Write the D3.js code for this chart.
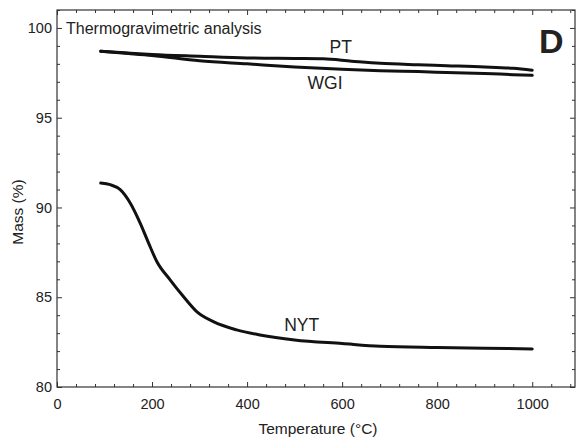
<!DOCTYPE html>
<html>
<head>
<meta charset="utf-8">
<script src="https://cdn.jsdelivr.net/npm/d3@7"></script>
<style>
  body { margin: 0; background: #fff; }
  svg text { font-family: "Liberation Sans", Arial, sans-serif; fill: #222; }
  .axis path { display: none; }
  .axis line { stroke: #333; }
</style>
</head>
<body>
<div id="chart"></div>
<script>
const width = 580;
const height = 440;
const margin = { top: 10, right: 5, bottom: 53, left: 57 };

// temperatures (°C) and mass (%)
const nytTemp = [92, 112, 133, 154, 175, 193, 210, 238, 266, 294, 329, 378, 427, 500, 600, 680, 800, 900, 1000];
const nytMass = [91.36, 91.27, 90.99, 90.25, 89.13, 88.0, 86.99, 85.97, 85.04, 84.2, 83.64, 83.18, 82.9, 82.62, 82.42, 82.27, 82.2, 82.16, 82.12];

const ptTemp = [92, 150, 200, 300, 400, 500, 560, 620, 680, 760, 820, 900, 960, 1000];
const ptMass = [98.7, 98.6, 98.52, 98.42, 98.33, 98.3, 98.28, 98.15, 98.03, 97.95, 97.9, 97.83, 97.75, 97.65];

const wgiTemp = [92, 150, 200, 300, 400, 500, 600, 680, 760, 820, 900, 960, 1000];
const wgiMass = [98.7, 98.58, 98.47, 98.17, 98.0, 97.83, 97.7, 97.62, 97.57, 97.52, 97.46, 97.4, 97.36];

const seriesNames = ['PT', 'WGI', 'NYT'];
const labelTemp = [597, 564, 515];
const labelMass = [98.62, 96.6, 83.14];

const xMajor = [0, 200, 400, 600, 800, 1000];
const yMajor = [80, 85, 90, 95, 100];

const series = [
  { name: 'PT', temp: ptTemp, mass: ptMass },
  { name: 'WGI', temp: wgiTemp, mass: wgiMass },
  { name: 'NYT', temp: nytTemp, mass: nytMass }
];

const svg = d3.select('#chart')
  .append('svg')
  .attr('width', width)
  .attr('height', height);

const x = d3.scaleLinear().domain([0, 1090]).range([margin.left, width - margin.right]);
const y = d3.scaleLinear().domain([80, 101]).range([height - margin.bottom, margin.top]);

const xMinor = d3.range(0, 1090, 40).filter((d) => d % 200 !== 0);
const yMinor = d3.range(80, 101.01, 1).filter((d) => d % 5 !== 0);

function addAxis(axisFn, scale, transform, major, minor, labels, padding) {
  const g = svg.append('g').attr('class', 'axis').attr('transform', transform);
  g.call(axisFn(scale).tickValues(minor).tickSize(-3).tickFormat(''));
  const g2 = svg.append('g').attr('class', 'axis').attr('transform', transform);
  g2.call(axisFn(scale).tickValues(major).tickSize(-5).tickPadding(padding)
    .tickFormat(labels ? d3.format('d') : ''));
  g2.selectAll('text').style('font-size', '14.5px').attr('fill', '#222');
}

addAxis(d3.axisBottom, x, `translate(0,${height - margin.bottom})`, xMajor, xMinor, true, 12);
addAxis(d3.axisTop, x, `translate(0,${margin.top})`, xMajor, xMinor, false, 3);
addAxis(d3.axisLeft, y, `translate(${margin.left},0)`, yMajor, yMinor, true, 5);
addAxis(d3.axisRight, y, `translate(${width - margin.right},0)`, yMajor, yMinor, false, 3);

// frame
svg.append('rect')
  .attr('x', margin.left)
  .attr('y', margin.top)
  .attr('width', width - margin.left - margin.right)
  .attr('height', height - margin.top - margin.bottom)
  .attr('fill', 'none')
  .attr('stroke', '#333')
  .attr('stroke-width', 1.2);

const line = d3.line()
  .x((d) => x(d[0]))
  .y((d) => y(d[1]))
  .curve(d3.curveMonotoneX);

svg.selectAll('.curve')
  .data(series)
  .enter().append('path')
    .attr('class', 'curve')
    .attr('d', (s) => line(s.temp.map((t, i) => [t, s.mass[i]])))
    .attr('fill', 'none')
    .attr('stroke', '#111')
    .attr('stroke-width', 3)
    .attr('stroke-linecap', 'round');

svg.selectAll('.series-label')
  .data(seriesNames)
  .enter().append('text')
    .attr('class', 'series-label')
    .attr('x', (d, i) => x(labelTemp[i]))
    .attr('y', (d, i) => y(labelMass[i]))
    .attr('text-anchor', 'middle')
    .style('font-size', '17.5px')
    .text((d) => d);

svg.append('text')
  .attr('x', 66)
  .attr('y', 34)
  .style('font-size', '16px')
  .text('Thermogravimetric analysis');

svg.append('text')
  .attr('x', 539)
  .attr('y', 53)
  .style('font-size', '34px')
  .style('font-weight', 'bold')
  .attr('fill', '#111')
  .text('D');

svg.append('text')
  .attr('x', (margin.left + width - margin.right) / 2 + 2)
  .attr('y', 434)
  .attr('text-anchor', 'middle')
  .style('font-size', '15.5px')
  .text('Temperature (°C)');

svg.append('text')
  .attr('transform', 'translate(23,212) rotate(-90)')
  .attr('text-anchor', 'middle')
  .style('font-size', '15.5px')
  .text('Mass (%)');
</script>
</body>
</html>
